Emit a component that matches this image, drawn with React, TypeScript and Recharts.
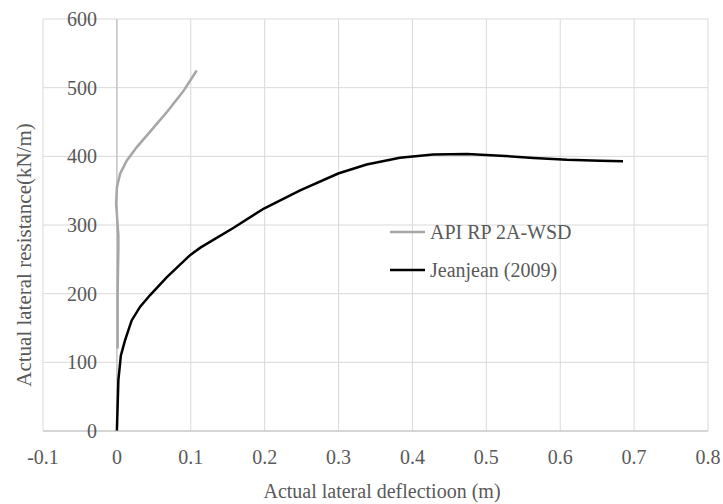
import React from 'react';
import { LineChart, Line, XAxis, YAxis, CartesianGrid, ReferenceLine, Legend } from 'recharts';

const xTicks = [-0.1, 0, 0.1, 0.2, 0.3, 0.4, 0.5, 0.6, 0.7, 0.8];
const yTicks = [0, 100, 200, 300, 400, 500, 600];

const seriesNames = ['API RP 2A-WSD', 'Jeanjean (2009)'];

const apiX = [0.001, 0.001, 0.002, 0.002, 0.001, -0.001, 0.0, 0.0045, 0.0135, 0.027, 0.045, 0.068, 0.09, 0.108];
const apiY = [120, 200, 268, 285, 300, 331, 355, 375, 394, 413.5, 436, 465, 495, 525];

const jjX = [0, 0.002, 0.0054, 0.011, 0.02, 0.0315, 0.045, 0.0677, 0.099, 0.113, 0.158, 0.199, 0.248, 0.2995, 0.338, 0.383, 0.428, 0.474, 0.519, 0.564, 0.609, 0.654, 0.685];
const jjY = [0, 74, 110, 132, 161, 181, 198, 224, 256, 267, 296, 324, 350.5, 375, 388, 398, 402.5, 403.3, 401, 397.5, 395, 393.7, 393];

const apiData = apiX.map((x, i) => ({ x, y: apiY[i] }));
const jjData = jjX.map((x, i) => ({ x, y: jjY[i] }));

const FONT = '"Liberation Serif", "Times New Roman", serif';
const TEXT = '#595959';

const fmt = (v: number) => String(Math.round(v * 10) / 10);

const XTick = (props: any) => {
  const { x, y, payload } = props;
  return (
    <text x={x} y={y} dy="0.71em" textAnchor="middle" fontFamily={FONT} fontSize={20} fill={TEXT}>
      {fmt(payload.value)}
    </text>
  );
};

const YTick = (props: any) => {
  const { x, y, payload } = props;
  return (
    <text x={x + 54} y={y} dy="0.355em" textAnchor="end" fontFamily={FONT} fontSize={20} fill={TEXT}>
      {String(payload.value)}
    </text>
  );
};

const LegendBox = () => (
  <svg width={240} height={64}>
    <line x1={2} y1={12} x2={37} y2={12} stroke="#a6a6a6" strokeWidth={2.5} />
    <text x={42} y={19} fontFamily={FONT} fontSize={20} fill={TEXT}>{seriesNames[0]}</text>
    <line x1={2} y1={50} x2={37} y2={50} stroke="#000000" strokeWidth={2.5} />
    <text x={42} y={57} fontFamily={FONT} fontSize={20} fill={TEXT}>{seriesNames[1]}</text>
  </svg>
);

export default function App() {
  return (
    <div style={{ position: 'absolute', left: 0, top: 0, width: 723, height: 504, background: '#fff' }}>
      <LineChart width={723} height={504} margin={{ top: 19, right: 15, bottom: 33, left: 42 }}>
        <CartesianGrid stroke="#d9d9d9" strokeWidth={1} />
        <XAxis
          type="number"
          dataKey="x"
          domain={[-0.1, 0.8]}
          ticks={xTicks}
          allowDataOverflow
          height={40}
          tickSize={0}
          tickMargin={19}
          axisLine={{ stroke: '#bfbfbf', strokeWidth: 1 }}
          tickLine={false}
          tick={<XTick />}
          label={() => (
            <text x={382} y={498} textAnchor="middle" fontFamily={FONT} fontSize={20} fill={TEXT}>
              Actual lateral deflectioon (m)
            </text>
          )}
        />
        <YAxis
          type="number"
          dataKey="y"
          domain={[0, 600]}
          ticks={yTicks}
          width={1}
          tickSize={0}
          tickMargin={0}
          axisLine={false}
          tickLine={false}
          tick={<YTick />}
          label={() => (
            <text x={31} y={255} transform="rotate(-90, 31, 255)" textAnchor="middle" fontFamily={FONT} fontSize={21} fill={TEXT}>
              Actual lateral resistance(kN/m)
            </text>
          )}
        />
        <ReferenceLine x={0} stroke="#bfbfbf" strokeWidth={1.2} />
        <Line data={apiData} dataKey="y" name={seriesNames[0]} type="linear" stroke="#a6a6a6" strokeWidth={2.5} dot={false} isAnimationActive={false} />
        <Line data={jjData} dataKey="y" name={seriesNames[1]} type="linear" stroke="#000000" strokeWidth={2.5} dot={false} isAnimationActive={false} />
        <Legend
          layout="vertical"
          align="center"
          verticalAlign="middle"
          content={() => <LegendBox />}
          wrapperStyle={{ left: 388, top: 220, width: 240, height: 64 }}
        />
      </LineChart>
    </div>
  );
}
